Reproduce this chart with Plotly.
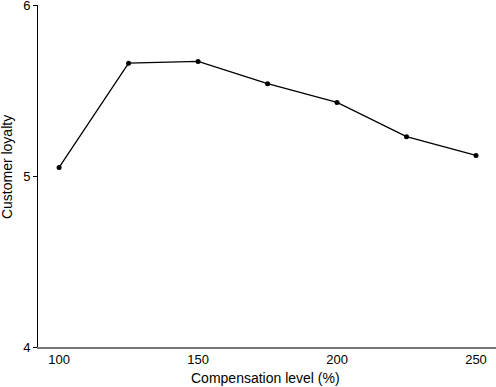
import plotly.graph_objects as go

compensation = [100, 125, 150, 175, 200, 225, 250]
loyalty = [5.05, 5.66, 5.67, 5.54, 5.43, 5.23, 5.12]
x_ticks = [100, 150, 200, 250]
y_ticks = [4, 5, 6]
x_title = "Compensation level (%)"
y_title = "Customer loyalty"

fig = go.Figure()
fig.add_trace(go.Scatter(
    x=compensation, y=loyalty, mode="lines+markers",
    line=dict(color="black", width=1.3),
    marker=dict(color="black", size=5),
    showlegend=False,
    cliponaxis=False,
))

fig.update_layout(
    width=496, height=387,
    margin=dict(l=38, r=0, t=5, b=40, autoexpand=False),
    plot_bgcolor="white", paper_bgcolor="white",
    font=dict(family="Liberation Sans, Arial, sans-serif", size=13, color="black"),
    xaxis=dict(
        range=[92.4, 257.2], tickvals=x_ticks, ticks="", showgrid=False,
        zeroline=False, showline=True, linecolor="#777777", linewidth=1.5,
        automargin=False, ticklabeloverflow="allow",
        tickfont=dict(size=13),
    ),
    yaxis=dict(
        range=[4, 6], tickvals=y_ticks, ticks="outside", ticklen=4,
        tickcolor="black", showgrid=False, zeroline=False, showline=True,
        linecolor="black", linewidth=1, automargin=False,
        ticklabeloverflow="allow",
        tickfont=dict(size=13),
    ),
    annotations=[
        dict(text=x_title, xref="paper", yref="paper", x=0.497, y=-0.0906,
             xanchor="center", yanchor="middle", showarrow=False,
             font=dict(size=14)),
        dict(text=y_title, xref="paper", yref="paper", x=(7 - 38) / 458,
             y=0.526, xanchor="center", yanchor="middle", showarrow=False,
             textangle=-90, font=dict(size=14)),
    ],
)

fig.write_html("out.html", config={"displayModeBar": False},
               post_script="document.body.style.margin='0';document.body.style.overflow='hidden';")
